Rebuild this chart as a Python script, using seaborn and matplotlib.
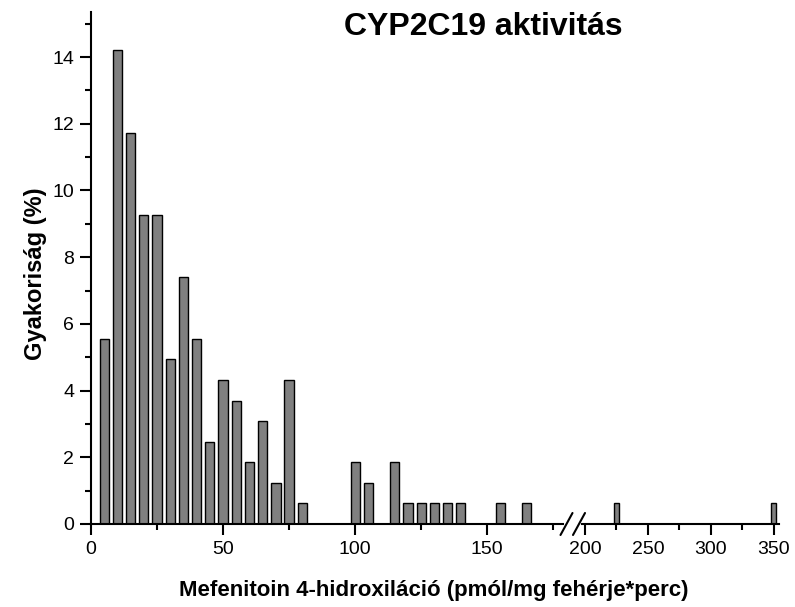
import matplotlib
matplotlib.use("Agg")
import matplotlib.pyplot as plt
from matplotlib.lines import Line2D
import pandas as pd
import seaborn as sns

# Activity bins (pmol/mg protein*min, bin centres) and their relative frequency (%)
activity = [5, 10, 15, 20, 25, 30, 35, 40, 45, 50, 55, 60, 65, 70, 75, 80,
            100, 105, 115, 120, 125, 130, 135, 140, 155, 165, 225, 350]
frequency = [5.56, 14.20, 11.73, 9.26, 9.26, 4.94, 7.41, 5.56, 2.47, 4.32,
             3.70, 1.85, 3.09, 1.23, 4.32, 0.62,
             1.85, 1.23, 1.85, 0.62, 0.62, 0.62, 0.62, 0.62, 0.62, 0.62,
             0.62, 0.62]

left_major = [0, 50, 100, 150]
left_minor = [25, 75, 125, 175]
right_major = [200, 250, 300, 350]
right_minor = [225, 275, 325]
y_major = [0, 2, 4, 6, 8, 10, 12, 14]
y_minor = [1, 3, 5, 7, 9, 11, 13, 15]

title = "CYP2C19 aktivitás"
xlabel = "Mefenitoin 4-hidroxiláció (pmól/mg fehérje*perc)"
ylabel = "Gyakoriság (%)"

sns.set_theme(style="ticks")
plt.rcParams["font.family"] = ["Liberation Sans", "DejaVu Sans"]
plt.rcParams["text.color"] = "black"

df = pd.DataFrame({"activity": activity, "frequency": frequency})

W, H = 795, 607
fig = plt.figure(figsize=(W / 100, H / 100), dpi=100)


def px_rect(x0, x1, ytop, ybot):
    return [x0 / W, 1 - ybot / H, (x1 - x0) / W, (ybot - ytop) / H]


# broken x axis: two panels sharing the y scale
ax_l = fig.add_axes(px_rect(91, 563, 12, 524))
ax_r = fig.add_axes(px_rect(582, 779, 12, 524), sharey=ax_l)

for ax in (ax_l, ax_r):
    sns.barplot(data=df, x="activity", y="frequency", native_scale=True,
                width=0.7, color="#808080", saturation=1, edgecolor="black",
                linewidth=1.0, errorbar=None, ax=ax)
    ax.set_xlabel("")
    ax.set_ylabel("")
    for side in ("top", "right"):
        ax.spines[side].set_visible(False)
    for side in ("left", "bottom"):
        ax.spines[side].set_linewidth(1.5)
        ax.spines[side].set_color("black")
    ax.tick_params(which="major", direction="out", length=8, width=1.5,
                   labelsize=14, color="black", labelcolor="black", pad=4)
    ax.tick_params(which="minor", direction="out", length=4, width=1.5,
                   color="black")
    ax.patch.set_alpha(0)

ax_l.set_xlim(0, 178.7)
ax_l.set_xticks(left_major)
ax_l.set_xticks(left_minor, minor=True)
ax_l.set_xticklabels([str(v) for v in left_major])

ax_r.set_xlim(197.6, 354.3)
ax_r.set_xticks(right_major)
ax_r.set_xticks(right_minor, minor=True)
ax_r.set_xticklabels([str(v) for v in right_major])

ax_l.set_ylim(0, 15.35)
ax_l.set_yticks(y_major)
ax_l.set_yticks(y_minor, minor=True)
ax_l.set_yticklabels([str(v) for v in y_major])

ax_r.spines["left"].set_visible(False)
ax_r.tick_params(axis="y", which="both", left=False, labelleft=False)

# break marks on the x axis
for cx in (566.5, 579.0):
    fig.add_artist(Line2D([(cx - 6) / W, (cx + 6) / W],
                          [1 - 535 / H, 1 - 513 / H],
                          transform=fig.transFigure, color="black", lw=1.5))

fig.text(483 / W, 1 - 35 / H, title, ha="center", va="baseline",
         fontsize=23, fontweight="bold", color="black")
fig.text(434 / W, 1 - 596 / H, xlabel, ha="center", va="baseline",
         fontsize=16, fontweight="bold", color="black")
fig.text(36 / W, 1 - 274 / H, ylabel, ha="center", va="center",
         rotation=90, fontsize=17, fontweight="bold", color="black")

fig.savefig("out.png", dpi=100, facecolor="white")
